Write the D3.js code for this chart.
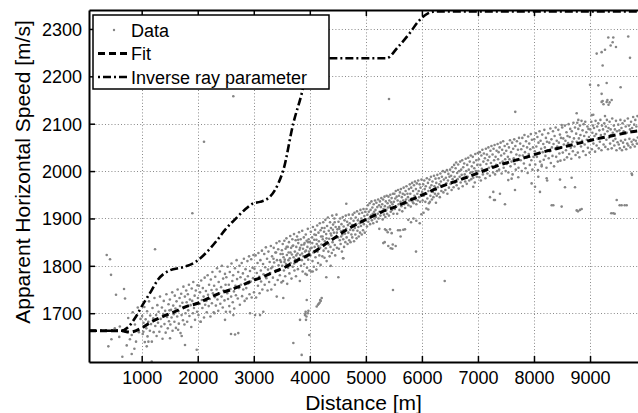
<!DOCTYPE html>
<html>
<head>
<meta charset="utf-8">
<script src="https://cdn.jsdelivr.net/npm/d3@7/dist/d3.min.js"></script>
<style>
  html, body { margin: 0; padding: 0; background: #fff; }
  svg { display: block; }
  text { font-family: "Liberation Sans", Arial, Helvetica, sans-serif; fill: #000; }
</style>
</head>
<body>
<svg id="chart" width="638" height="413"></svg>
<script>
// Axis ticks
const xTicks = [1000, 2000, 3000, 4000, 5000, 6000, 7000, 8000, 9000];
const yTicks = [1700, 1800, 1900, 2000, 2100, 2200, 2300];

// Fitted apparent horizontal speed [distance m, speed m/s]
const fitCurve = [[60,1663],[632,1663],[792,1660],[988,1668],[1179,1682],[1376,1693],[1583,1703],[1791,1714],[2000,1721],[2178,1731],[2385,1742],[2576,1749],[2755,1757],[2963,1768],[3170,1777],[3379,1788],[3557,1797],[3736,1809],[3945,1821],[4123,1833],[4302,1848],[4480,1862],[4658,1876],[4837,1888],[5074,1902],[5283,1914],[5490,1923],[5668,1932],[5877,1943],[6073,1953],[6275,1964],[6471,1973],[6667,1981],[6871,1990],[7067,1999],[7269,2008],[7470,2016],[7673,2023],[7880,2030],[8089,2038],[8286,2044],[8494,2050],[8701,2056],[8910,2062],[9119,2068],[9326,2073],[9534,2078],[9743,2083],[9856,2085]];

// Inverse ray parameter [distance m, speed m/s]
const inverseRay = [[60,1663],[632,1663],[751,1670],[899,1693],[1019,1718],[1167,1746],[1286,1770],[1493,1790],[1732,1797],[1970,1809],[2178,1831],[2398,1862],[2487,1876],[2666,1898],[2844,1919],[2992,1932],[3112,1935],[3290,1946],[3438,1974],[3527,2002],[3706,2101],[3856,2164],[3932,2203],[4039,2230],[4146,2237],[4300,2238],[5365,2238],[5574,2262],[5782,2291],[5930,2315],[6109,2333],[6250,2337],[9856,2337]];

// Picked apparent speeds along the main trend [distance m, speed m/s]
const picks = [
[1008,1694],[1019,1656],[1033,1680],[1047,1713],[1056,1639],[1071,1687],[1083,1668],[1097,1704],[1104,1651],[1118,1682],[1131,1725],[1146,1663],[1152,1695],[1167,1677],[1181,1640],[1193,1711],[1206,1689],[1214,1660],[1228,1732],[1243,1673],
[1257,1696],[1266,1652],[1279,1717],[1291,1680],[1302,1703],[1316,1661],[1327,1735],[1338,1688],[1349,1672],[1361,1712],[1372,1646],[1386,1698],[1394,1726],[1407,1677],[1419,1705],[1428,1659],[1441,1740],[1453,1692],[1466,1668],[1479,1719],[1487,1683],[1496,1706],
[1503,1729],[1512,1676],[1524,1707],[1533,1691],[1545,1744],[1551,1663],[1563,1716],[1572,1698],[1584,1682],[1591,1737],[1603,1710],[1611,1669],[1622,1725],[1634,1693],[1642,1750],[1655,1704],[1663,1678],[1676,1732],[1684,1715],[1693,1658],[1705,1741],[1712,1696],[1726,1722],[1737,1685],[1745,1756],
[1754,1713],[1763,1676],[1771,1735],[1782,1700],[1795,1748],[1803,1723],[1812,1682],[1824,1740],[1831,1706],[1843,1760],[1852,1694],[1861,1729],[1873,1717],[1885,1671],[1893,1752],[1902,1726],[1914,1700],[1921,1766],[1933,1711],[1945,1737],[1952,1686],[1966,1748],[1975,1721],[1988,1703],[1996,1759],
[2004,1732],[2013,1696],[2022,1758],[2036,1720],[2041,1744],[2053,1682],[2062,1769],[2074,1728],[2083,1711],[2091,1753],[2105,1735],[2112,1691],[2124,1775],[2133,1718],[2146,1747],[2153,1726],[2161,1702],[2177,1780],[2184,1739],[2196,1715],[2203,1760],[2215,1730],[2227,1693],[2234,1771],[2246,1749],
[2253,1721],[2262,1787],[2271,1742],[2285,1702],[2293,1758],[2306,1734],[2313,1777],[2324,1716],[2337,1750],[2345,1795],[2352,1729],[2366,1705],[2374,1766],[2381,1742],[2395,1788],[2403,1720],[2417,1755],[2425,1735],[2431,1800],[2446,1712],[2454,1773],[2462,1748],[2478,1727],[2486,1783],[2497,1760],
[2503,1703],[2511,1776],[2526,1742],[2534,1798],[2541,1730],[2555,1760],[2563,1715],[2572,1787],[2584,1751],[2596,1735],[2603,1805],[2617,1768],[2625,1723],[2632,1780],[2646,1746],[2651,1710],[2664,1795],[2673,1758],[2681,1738],[2694,1812],[2702,1772],[2715,1731],[2723,1787],[2736,1753],[2744,1800],
[2752,1718],[2763,1776],[2771,1760],[2785,1806],[2792,1736],[2806,1784],[2813,1750],[2824,1815],[2837,1726],[2845,1771],[2853,1793],[2866,1753],[2874,1731],[2887,1810],[2895,1778],[2903,1763],[2916,1820],[2924,1740],[2933,1789],[2947,1767],[2955,1814],[2963,1733],[2978,1796],[2986,1774],[2994,1823],
[3004,1744],[3012,1794],[3025,1772],[3033,1822],[3042,1733],[3054,1785],[3067,1806],[3075,1758],[3083,1827],[3096,1777],[3104,1742],[3118,1812],[3126,1790],[3131,1767],[3145,1832],[3153,1750],[3166,1804],[3174,1782],[3187,1825],[3195,1760],[3204,1797],[3216,1839],[3225,1774],[3237,1815],[3246,1748],
[3254,1792],[3262,1830],[3275,1766],[3284,1808],[3293,1785],[3305,1842],[3313,1750],[3326,1820],[3335,1798],[3342,1775],[3356,1838],[3364,1807],[3377,1760],[3385,1828],[3393,1790],[3406,1848],[3414,1812],[3427,1770],[3436,1835],[3443,1801],[3457,1852],[3465,1780],[3478,1825],[3486,1808],[3494,1765],
[3502,1833],[3508,1800],[3517,1846],[3523,1768],[3531,1818],[3538,1790],[3546,1853],[3553,1813],[3561,1778],[3568,1836],[3576,1804],[3583,1858],[3591,1823],[3597,1762],[3606,1840],[3612,1796],[3621,1828],[3628,1850],[3636,1784],[3643,1816],[3651,1863],[3657,1806],[3666,1838],[3673,1773],[3681,1824],[3688,1856],[3696,1798],[3703,1843],[3711,1818],[3718,1867],[3726,1790],[3733,1830],[3741,1813],[3748,1854],
[3753,1778],[3759,1840],[3766,1808],[3772,1862],[3781,1826],[3787,1793],[3794,1848],[3802,1816],[3808,1871],[3816,1834],[3822,1768],[3829,1823],[3837,1856],[3843,1800],[3851,1844],[3858,1812],[3864,1874],[3872,1788],[3879,1836],[3886,1820],[3893,1860],[3901,1804],[3907,1848],[3915,1830],[3922,1783],[3928,1866],[3936,1818],[3943,1853],[3950,1796],[3957,1840],[3964,1878],[3971,1813],[3979,1856],[3986,1830],[3993,1790],
[4003,1850],[4010,1822],[4018,1872],[4025,1788],[4033,1838],[4041,1860],[4048,1810],[4056,1882],[4063,1828],[4071,1798],[4079,1855],[4086,1840],[4094,1876],[4101,1818],[4109,1865],[4117,1792],[4124,1846],[4132,1885],[4139,1830],[4147,1806],[4155,1870],[4162,1852],[4170,1822],[4178,1890],[4185,1838],[4193,1802],[4201,1862],[4208,1845],[4216,1880],[4224,1820],[4231,1856],[4239,1892],[4246,1832],
[4254,1872],[4262,1817],[4269,1852],[4277,1897],[4285,1837],[4292,1867],[4300,1810],[4308,1884],[4315,1848],[4323,1902],[4331,1830],[4338,1874],[4346,1857],[4354,1820],[4361,1892],[4369,1840],[4377,1880],[4384,1864],[4392,1827],[4400,1906],[4407,1850],[4415,1887],[4423,1834],[4430,1870],[4438,1900],[4446,1844],[4453,1822],[4461,1882],[4469,1860],[4476,1908],[4484,1838],[4492,1877],
[4504,1860],[4512,1893],[4519,1836],[4527,1878],[4535,1854],[4542,1900],[4550,1846],[4558,1873],[4565,1888],[4573,1830],[4581,1866],[4588,1903],[4596,1856],[4604,1883],[4611,1840],[4619,1896],[4627,1868],[4634,1850],[4642,1906],[4650,1878],[4657,1860],[4665,1893],[4673,1846],[4680,1886],[4688,1870],[4696,1908],[4703,1854],[4711,1890],[4719,1876],[4726,1850],[4734,1900],[4742,1866],
[4751,1886],[4758,1860],[4766,1908],[4774,1875],[4781,1895],[4789,1852],[4797,1912],[4804,1880],[4812,1866],[4820,1902],[4827,1888],[4835,1858],[4843,1915],[4850,1874],[4858,1896],[4866,1882],[4873,1862],[4881,1910],[4889,1890],[4896,1870],[4904,1918],[4912,1884],[4919,1900],[4927,1866],[4935,1912],[4942,1892],[4950,1875],[4958,1920],[4965,1888],[4973,1905],[4981,1870],[4988,1914],
[5004,1898],[5012,1920],[5020,1883],[5028,1908],[5036,1928],[5044,1893],[5052,1914],[5060,1900],[5068,1932],[5076,1888],[5084,1918],[5092,1906],[5100,1936],[5108,1896],[5116,1923],[5124,1910],[5132,1890],[5140,1930],[5148,1914],[5156,1900],[5164,1938],[5172,1918],[5180,1903],[5188,1933],[5196,1893],[5204,1924],[5212,1910],[5220,1940],[5228,1900],[5236,1928],[5244,1914],
[5252,1936],[5260,1906],[5268,1924],[5276,1943],[5284,1913],[5292,1930],[5300,1898],[5308,1940],[5316,1920],[5324,1908],[5332,1946],[5340,1926],[5348,1903],[5356,1936],[5364,1918],[5372,1948],[5380,1910],[5388,1932],[5396,1923],[5404,1946],[5412,1906],[5420,1938],[5428,1926],[5436,1950],[5444,1914],[5452,1934],[5460,1943],[5468,1918],[5476,1930],[5484,1952],[5492,1910],
[5500,1935],[5509,1952],[5517,1920],[5525,1942],[5534,1958],[5542,1925],[5550,1946],[5559,1910],[5567,1938],[5575,1960],[5584,1930],[5592,1948],[5600,1918],[5609,1955],[5617,1935],[5625,1962],[5634,1926],[5642,1945],[5650,1915],[5659,1952],[5667,1938],[5675,1965],[5684,1930],[5692,1950],[5700,1922],[5709,1958],[5717,1940],[5725,1968],[5734,1932],[5742,1952],
[5751,1945],[5759,1928],[5768,1962],[5776,1938],[5784,1972],[5793,1952],[5801,1925],[5809,1965],[5818,1942],[5826,1975],[5834,1935],[5843,1958],[5851,1932],[5859,1970],[5868,1948],[5876,1978],[5884,1940],[5893,1962],[5901,1930],[5909,1974],[5918,1952],[5926,1938],[5934,1980],[5943,1958],[5951,1945],[5959,1972],[5968,1935],[5976,1965],[5984,1950],[5993,1982],
[6004,1956],[6014,1938],[6023,1972],[6031,1948],[6042,1980],[6050,1962],[6061,1935],[6069,1968],[6080,1952],[6088,1985],[6097,1942],[6108,1975],[6116,1958],[6125,1932],[6135,1982],[6143,1965],[6152,1948],[6162,1988],[6170,1970],[6179,1940],[6189,1978],[6197,1956],[6206,1945],[6216,1990],[6224,1968],[6233,1952],[6243,1984],[6248,1960],
[6257,1975],[6265,1948],[6276,1992],[6284,1966],[6293,1952],[6303,1985],[6311,1972],[6320,1945],[6330,1995],[6338,1978],[6347,1958],[6357,1988],[6365,1968],[6374,2000],[6384,1955],[6392,1982],[6401,1970],[6411,1998],[6419,1960],[6428,1986],[6438,1974],[6446,2002],[6455,1952],[6465,1980],[6473,1994],[6482,1965],[6492,1988],
[6503,2003],[6511,1973],[6521,1990],[6530,1960],[6539,2008],[6548,1983],[6557,1998],[6566,1966],[6575,2013],[6584,1988],[6593,1976],[6602,2006],[6611,2018],[6620,1970],[6629,1996],[6638,1983],[6647,2014],[6656,1963],[6665,2000],[6674,1988],[6683,2020],[6692,1976],[6701,2003],[6710,1992],[6719,2023],[6728,1968],[6737,2008],[6746,1986],
[6755,2016],[6764,1993],[6773,1978],[6782,2026],[6791,2000],[6800,1973],[6809,2013],[6818,1988],[6827,2028],[6836,2003],[6845,1980],[6854,2020],[6863,1996],[6872,2033],[6881,1983],[6890,2010],[6899,1998],[6908,2030],[6917,1986],[6926,2018],[6935,2006],[6944,1976],[6953,2036],[6962,2000],[6971,2023],[6980,1988],[6989,2013],[6998,2038],
[7007,2000],[7016,2025],[7025,1987],[7034,2040],[7043,2013],[7052,1980],[7061,2033],[7070,2005],[7079,2045],[7088,1993],[7097,2020],[7106,2037],[7115,2000],[7124,2027],[7133,1985],[7142,2047],[7151,2015],[7160,2035],[7169,1995],[7178,2023],[7187,2050],[7196,2007],[7205,2030],[7214,1990],[7223,2043],[7232,2017],[7241,2053],
[7252,2010],[7261,2035],[7270,1997],[7279,2047],[7288,2023],[7297,2055],[7306,1993],[7315,2030],[7324,2013],[7333,2043],[7342,2000],[7351,2057],[7360,2025],[7369,2040],[7378,2003],[7387,2050],[7396,2017],[7405,2060],[7414,2033],[7423,1995],[7432,2045],[7441,2020],[7450,2063],[7459,2007],[7468,2037],[7477,2053],[7486,2025],[7495,2000],
[7505,2043],[7515,2015],[7524,2057],[7534,2030],[7543,1997],[7553,2050],[7562,2025],[7572,2065],[7581,2010],[7591,2040],[7600,2020],[7610,2060],[7619,1993],[7629,2047],[7638,2027],[7648,2067],[7657,2015],[7667,2053],[7676,2003],[7686,2035],[7695,2063],[7705,2023],[7714,2045],[7724,2007],[7733,2070],[7743,2033],
[7754,2058],[7763,2023],[7773,2046],[7782,2000],[7792,2070],[7801,2033],[7811,2053],[7820,2016],[7830,2076],[7839,2040],[7849,2006],[7858,2063],[7868,2028],[7877,2050],[7887,1996],[7896,2073],[7906,2036],[7915,2058],[7925,2013],[7934,2046],[7944,2078],[7953,2023],[7963,2066],[7972,2003],[7982,2050],[7991,2030],
[8004,2067],[8014,2042],[8023,2014],[8033,2080],[8042,2052],[8052,2030],[8061,2072],[8071,2002],[8080,2060],[8090,2037],[8099,2084],[8109,2020],[8118,2064],[8128,2047],[8137,2010],[8147,2077],[8156,2040],[8166,2057],[8175,2024],[8185,2087],[8194,2050],[8204,2032],[8213,2070],[8223,2007],[8232,2062],[8242,2044],
[8254,2080],[8263,2027],[8273,2060],[8282,2042],[8292,2090],[8301,2017],[8311,2067],[8320,2050],[8330,2032],[8339,2084],[8349,2057],[8358,2010],[8368,2074],[8377,2047],[8387,2092],[8396,2030],[8406,2064],[8415,2052],[8425,2020],[8434,2087],[8444,2060],[8453,2037],[8463,2077],[8472,2022],[8482,2070],[8491,2050],
[8504,2092],[8514,2039],[8523,2069],[8533,2056],[8542,2024],[8552,2096],[8561,2064],[8571,2044],[8580,2082],[8590,2029],[8599,2074],[8609,2059],[8618,2099],[8628,2036],[8637,2072],[8647,2089],[8656,2049],[8666,2026],[8675,2084],[8685,2062],[8694,2042],[8704,2102],[8713,2069],[8723,2052],[8732,2092],[8742,2034],
[8753,2079],[8763,2062],[8772,2102],[8782,2039],[8791,2089],[8801,2069],[8810,2029],[8820,2096],[8829,2076],[8839,2052],[8848,2106],[8858,2064],[8867,2086],[8877,2042],[8886,2099],[8896,2074],[8905,2056],[8915,2104],[8924,2034],[8934,2082],[8943,2066],[8953,2094],[8962,2049],[8972,2089],[8981,2072],[8991,2039],
[9004,2088],[9014,2066],[9023,2104],[9033,2046],[9042,2081],[9052,2096],[9061,2058],[9071,2091],[9080,2074],[9090,2041],[9099,2106],[9109,2078],[9118,2054],[9128,2094],[9137,2068],[9147,2101],[9156,2048],[9166,2086],[9175,2062],[9185,2108],[9194,2076],[9204,2044],[9213,2096],[9223,2071],[9232,2088],[9242,2056],
[9254,2101],[9263,2078],[9273,2051],[9282,2094],[9292,2066],[9301,2108],[9311,2084],[9320,2046],[9330,2091],[9339,2071],[9349,2104],[9358,2058],[9368,2088],[9377,2076],[9387,2048],[9396,2111],[9406,2081],[9415,2064],[9425,2096],[9434,2054],[9444,2088],[9453,2068],[9463,2106],[9472,2044],[9482,2084],[9491,2061],
[9504,2098],[9513,2056],[9523,2086],[9532,2048],[9542,2108],[9551,2064],[9561,2091],[9570,2044],[9580,2101],[9589,2060],[9599,2084],[9608,2051],[9618,2106],[9627,2066],[9637,2094],[9646,2046],[9656,2081],[9665,2058],[9675,2111],[9684,2054],[9694,2096],[9703,2068],[9713,2088],[9722,2050],[9732,2104],[9741,2062],[9751,2091],[9760,2056],[9770,2114],[9779,2066],[9789,2098],[9798,2052],[9808,2108],[9817,2064],[9827,2094],[9836,2058],[9846,2116],[9853,2071],
[3310,1795],[3352,1815],[3398,1828],[3440,1790],[3472,1812],[3515,1825],[3548,1808],[3586,1840],[3618,1812],[3655,1828],[3692,1842],[3722,1805],[3758,1822],[3792,1855],[3826,1838],[3862,1826],[3896,1845],[3932,1832],[3968,1850],[4006,1836],[4044,1848],[4082,1866],[4118,1855],[4152,1842],[4192,1875],[4228,1862],[4262,1880],[4298,1858],[4336,1845],[4372,1868],[4412,1876],[4444,1892],[4482,1870],[4522,1882],[4560,1862],[4600,1875]
];

// Scattered picks away from the main trend [distance m, speed m/s]
const strays = [
[376,1823],[435,1814],[453,1781],[542,1739],[685,1751],[703,1731],[405,1630],[655,1608],[733,1632],[822,1614],[899,1640],[822,1654],[520,1668],[610,1672],[760,1690],[840,1702],[880,1676],[950,1660],[980,1688],[930,1712],[790,1645],[600,1650],[460,1645],[705,1662],[870,1625],
[1030,1661],[1090,1630],[1179,1598],[1238,1835],[1506,1647],[1120,1640],[1714,1652],[1773,1633],[1904,1911],[1982,1623],[1650,1665],[2112,2062],[2487,1686],[2050,1682],[2300,1700],[2576,1703],[2594,1656],[2636,1696],[2666,1655],[2724,1658],[2933,1700],[2635,2158],
[3023,1696],[3112,1696],[3170,1703],[3410,1735],[3527,1732],[3706,1637],[3825,1686],[3855,1612],[3914,1696],[3932,1686],[3945,1728],[3965,1700],[3991,1654],[3940,1693],[3925,1703],[3975,1705],[3948,1781],[3920,1699],
[4052,1788],[4123,1714],[4146,1718],[4175,1722],[4195,1726],[4212,1732],[4294,1776],[4373,1800],[4160,1720],[4185,1728],[4509,1776],[4592,1816],[4651,1931],[4598,1816],
[5240,1878],[5311,1848],[5336,1850],[5342,1877],[5365,1875],[5390,1871],[5431,1877],[5444,1837],[5461,1869],[5473,1836],[5484,1749],[5413,2152],[5480,1845],[5400,1842],[5574,1875],[5609,1875],[5668,1876],[5698,1877],[5757,1897],[5806,1892],[5850,1900],[5900,1895],[5961,1890],[5895,1830],[5990,1909],[5532,1842],[5620,1862],
[6114,1919],[6144,1935],[6251,1933],[6407,1768],[6080,1921],[6030,1912],[6917,1967],[7215,1945],[7274,1956],[7286,1939],[7304,1939],[7393,1952],[7482,1930],[7541,1981],[7601,1984],[7661,1960],[7720,1987],[7666,2125],[7958,1974],
[8018,1967],[8077,1988],[8107,1956],[8137,2013],[8226,1985],[8235,1980],[8316,1928],[8345,1928],[8464,1982],[8494,1925],[8494,2097],[8553,1966],[8672,1986],[8732,1966],[8762,1917],[8785,1915],[8821,1918],[8851,1920],[8762,2122],[8791,2108],
[9030,2118],[9058,2119],[9207,2146],[9297,2146],[9386,2150],[9326,2282],[9415,2282],[9404,2272],[9368,2265],[9463,2262],[9267,2256],[9207,2251],[9119,2248],[9682,2284],[9713,2239],[9225,2223],[9000,2182],[9148,2181],[9297,2186],[9546,2177],[9207,2163],[9225,2148],[9240,2141],[9310,2150],[9350,2145],[9330,2140],[9267,2116],[9379,1911],[9415,1911],[9440,1910],[9476,1939],[9529,1928],[9564,1928],[9618,1928],[9654,1928],[9743,1995],[9750,1992]
];

const legendItems = ["Data", "Fit", "Inverse ray parameter"];

const svg = d3.select("#chart");
const plot = { left: 89, right: 638, top: 10, bottom: 362 };

const x = d3.scaleLinear().domain([60, 9856]).range([plot.left, plot.right]);
const y = d3.scaleLinear().domain([1597, 2340]).range([plot.bottom, plot.top]);

svg.append("defs").append("clipPath").attr("id", "plot-clip")
  .append("rect")
  .attr("x", plot.left).attr("y", plot.top)
  .attr("width", plot.right - plot.left).attr("height", plot.bottom - plot.top);

// Dotted grid
const grid = svg.append("g").attr("stroke", "#8a8a8a").attr("stroke-width", 1)
  .attr("stroke-dasharray", "1,2.2").attr("fill", "none");
grid.selectAll("line.v").data(xTicks).join("line").attr("class", "v")
  .attr("x1", d => Math.round(x(d)) + 0.5).attr("x2", d => Math.round(x(d)) + 0.5)
  .attr("y1", plot.top).attr("y2", plot.bottom);
grid.selectAll("line.h").data(yTicks).join("line").attr("class", "h")
  .attr("y1", d => Math.round(y(d)) + 0.5).attr("y2", d => Math.round(y(d)) + 0.5)
  .attr("x1", plot.left).attr("x2", plot.right);

const content = svg.append("g").attr("clip-path", "url(#plot-clip)");

// Scatter of picked speeds
content.append("g").attr("fill", "#858585")
  .selectAll("circle").data(picks.concat(strays)).join("circle")
  .attr("cx", d => x(d[0])).attr("cy", d => y(d[1])).attr("r", 1.3);

const line = d3.line().x(d => x(d[0])).y(d => y(d[1])).curve(d3.curveMonotoneX);

content.append("path").datum(fitCurve)
  .attr("d", line).attr("fill", "none").attr("stroke", "#000")
  .attr("stroke-width", 3).attr("stroke-dasharray", "7,4");

content.append("path").datum(inverseRay)
  .attr("d", line).attr("fill", "none").attr("stroke", "#000")
  .attr("stroke-width", 2.6).attr("stroke-dasharray", "8,3,2,3");

// Axes with inward ticks
const fmt = d3.format("d");
const gx = svg.append("g").attr("transform", `translate(0,${plot.bottom})`)
  .call(d3.axisBottom(x).tickValues(xTicks).tickFormat(fmt).tickSize(-6).tickSizeOuter(0).tickPadding(9));
const gxt = svg.append("g").attr("transform", `translate(0,${plot.top})`)
  .call(d3.axisTop(x).tickValues(xTicks).tickSize(-6).tickSizeOuter(0).tickFormat(""));
const gy = svg.append("g").attr("transform", `translate(${plot.left},0)`)
  .call(d3.axisLeft(y).tickValues(yTicks).tickFormat(fmt).tickSize(-6).tickSizeOuter(0).tickPadding(7));

[gx, gxt, gy].forEach(g => {
  g.select(".domain").attr("stroke", "#000").attr("stroke-width", 2);
  g.selectAll(".tick line").attr("stroke", "#000").attr("stroke-width", 1.5);
  g.selectAll(".tick text").style("font-family", '"Liberation Sans", Arial, sans-serif')
    .style("font-size", "18px").attr("fill", "#000");
});
gy.selectAll(".tick text").attr("dy", "0.35em");

// Axis titles
svg.append("text").attr("x", (plot.left + plot.right) / 2).attr("y", 410)
  .attr("text-anchor", "middle").style("font-size", "21px").text("Distance [m]");
svg.append("text").attr("transform", "translate(30,172) rotate(-90)")
  .attr("text-anchor", "middle").style("font-size", "21px").text("Apparent Horizontal Speed [m/s]");

// Legend
const lg = svg.append("g");
lg.append("rect").attr("x", 93).attr("y", 15).attr("width", 236).attr("height", 74)
  .attr("fill", "#fff").attr("stroke", "#000").attr("stroke-width", 1.5);
const rows = [30, 53.5, 77];
lg.append("circle").attr("cx", 114).attr("cy", rows[0]).attr("r", 1.2).attr("fill", "#858585");
lg.append("line").attr("x1", 98).attr("x2", 128).attr("y1", rows[1]).attr("y2", rows[1])
  .attr("stroke", "#000").attr("stroke-width", 3).attr("stroke-dasharray", "7,4");
lg.append("line").attr("x1", 98).attr("x2", 128).attr("y1", rows[2]).attr("y2", rows[2])
  .attr("stroke", "#000").attr("stroke-width", 2.6).attr("stroke-dasharray", "2,3,8,3");
lg.selectAll("text").data(legendItems).join("text")
  .attr("x", 131).attr("y", (d, i) => rows[i] + 6.5)
  .style("font-size", "18px").text(d => d);
</script>
</body>
</html>
